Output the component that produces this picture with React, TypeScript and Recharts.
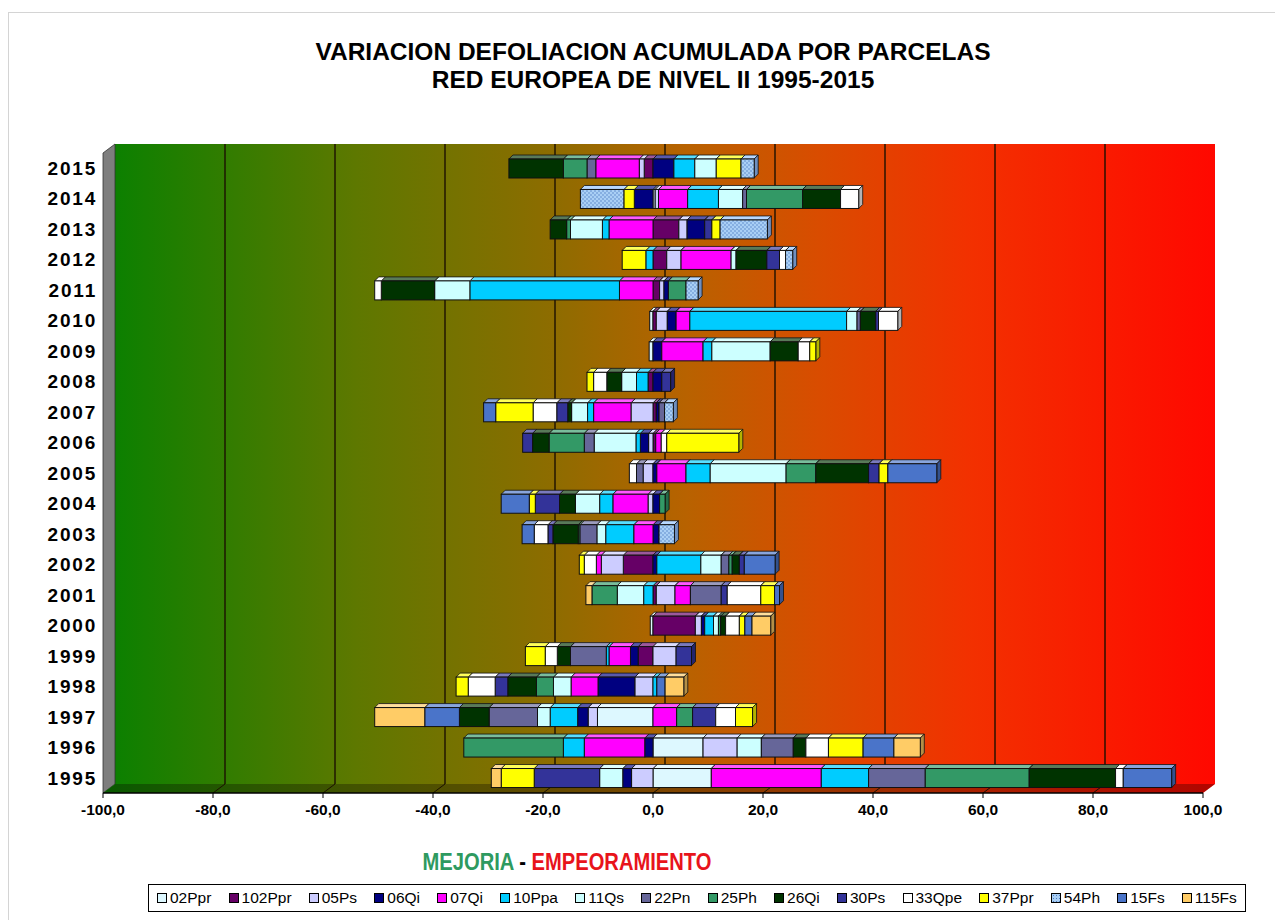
import { Bar, BarChart, ReferenceArea, XAxis, YAxis } from 'recharts'

const YEARS = ['1995', '1996', '1997', '1998', '1999', '2000', '2001', '2002', '2003', '2004', '2005', '2006', '2007', '2008', '2009', '2010', '2011', '2012', '2013', '2014', '2015']
const X_TICKS = [-100, -80, -60, -40, -20, 0, 20, 40, 60, 80, 100]

// one array per plot, 1995 -> 2015
const p02Ppr = [10.6, 9.1, -10.1, 0, 0, -0.5, 0, 0, 0, 0, 0, 0, 0, 0, -0.7, -0.6, 0, 0, 0, 0.4, 0]
const p102Ppr = [0, 0, 0, 0, -2.7, 7.7, 0.6, -5.4, 0, 0, 0, 0.5, 0.6, -0.9, 0, 0.6, 1.2, 2.5, 4.7, 0, -1.6]
const p05Ps = [-3.9, 6.2, -1.7, -3.3, 4.2, 1.1, 3.4, -4.0, 0, -0.9, -1.8, -0.8, -4.0, 0, 0, 2.0, 0.8, 2.6, 1.5, 0.6, -0.9]
const p06Qi = [-1.6, -1.5, -1.9, -6.7, -1.4, 0.6, 0, 0.7, 1.1, 1.2, 0.7, -1.5, 0.5, 1.6, 1.6, 1.6, 0.8, 0, 3.2, -3.4, 3.8]
const p07Qi = [20.0, -11.0, 4.3, -4.9, -3.9, 0, 2.8, -0.9, -3.5, -6.4, 5.3, 1.0, -6.8, 0, 7.5, 2.5, -6.1, 9.1, -8.0, 5.3, -7.9]
const p10Ppa = [8.6, -3.8, -5.0, 0.7, -0.5, 1.6, -1.7, 8.0, -5.1, -2.4, 4.4, -0.8, -1.1, -2.1, 1.6, 28.5, -27.2, -1.3, -1.2, 5.6, 3.8]
const p11Qs = [-4.2, 4.4, -2.3, -3.2, 0, 0.9, -4.8, 3.7, -1.6, -4.4, 13.8, -7.6, -2.9, -2.7, 10.6, 1.9, -6.4, 0.9, -5.8, 4.4, 3.9]
const p22Pn = [10.3, 5.8, -8.8, 0, -6.5, 0, 5.6, 1.4, -3.1, 0, -1.2, -1.8, 1.0, 0, 0, 0.6, 0, 0, 0, 0.7, -1.6]
const p25Ph = [18.9, -18.1, 2.9, -3.1, 0, 0.4, -4.6, 0.6, -0.3, 1.0, 5.4, -6.4, 0, 0, 0, 0, 3.2, 0, -0.7, 10.2, -4.3]
const p26Qi = [15.7, 2.3, -5.4, -5.2, -2.4, 0.9, 0, 1.3, -4.6, -2.9, 9.6, -3.0, -0.7, -2.7, 5.1, 2.8, -9.7, 5.6, -3.0, 6.9, -9.9]
const p30Ps = [-11.9, 0, 4.2, -2.3, 2.8, 0, 1.1, 0.9, -0.9, -4.4, 1.9, -1.8, -2.0, 1.6, 0, 0.5, 0, 2.3, 1.3, 0, 0]
const p33Qpe = [1.4, 4.1, 3.6, -4.9, -2.2, 2.5, 6.1, -2.2, -2.5, 0, -1.3, 1.0, -4.3, -2.4, 2.1, 3.5, -1.2, 1.1, 0, 3.3, 0]
const p37Ppr = [-6.0, 6.3, 3.1, -2.2, -3.6, 1.0, 2.5, -0.9, 0, -1.1, 1.6, 13.1, -6.8, -1.2, 1.1, 0, 0, -4.3, 1.5, -1.9, 4.5]
const p54Ph = [0, 0, 0, 0, 0, 0, 0, 0, 2.8, 0, 0, 0, 1.6, 0, 0, 0, 2.2, 1.3, 8.6, -7.9, 2.4]
const p15Fs = [8.8, 5.6, -6.3, 1.5, 0, 1.3, 0.9, 5.6, -2.2, -5.1, 8.9, 0, -2.2, 0, 0, 0, 0, 0, 0, 0, 0]
const p115Fs = [-1.8, 4.8, -9.1, 3.4, 0, 3.4, -1.1, 0, 0, 0, 0, 0, 0, 0, 0, 0, 0, 0, 0, 0, 0]

const SERIES = [
  { name: '02Ppr', color: '#DDF8FF', values: p02Ppr },
  { name: '102Ppr', color: '#660066', values: p102Ppr },
  { name: '05Ps', color: '#CCCCFF', values: p05Ps },
  { name: '06Qi', color: '#000080', values: p06Qi },
  { name: '07Qi', color: '#FF00FF', values: p07Qi },
  { name: '10Ppa', color: '#00CCFF', values: p10Ppa },
  { name: '11Qs', color: '#CCFFFF', values: p11Qs },
  { name: '22Pn', color: '#666699', values: p22Pn },
  { name: '25Ph', color: '#339966', values: p25Ph },
  { name: '26Qi', color: '#003300', values: p26Qi },
  { name: '30Ps', color: '#333399', values: p30Ps },
  { name: '33Qpe', color: '#FFFFFF', values: p33Qpe },
  { name: '37Ppr', color: '#FFFF00', values: p37Ppr },
  { name: '54Ph', color: 'url(#dots54)', values: p54Ph },
  { name: '15Fs', color: '#4A74C9', values: p15Fs },
  { name: '115Fs', color: '#FFCC66', values: p115Fs },
]

const data = YEARS.map((year, i) => {
  const row: Record<string, string | number> = { year }
  SERIES.forEach((s) => {
    row[s.name] = s.values[i]
  })
  return row
})

const DEPTH_X = 12
const DEPTH_Y = 9

function mix(hex: string, target: number, amount: number) {
  if (!hex.startsWith('#')) return hex
  const n = parseInt(hex.slice(1), 16)
  const ch = [(n >> 16) & 255, (n >> 8) & 255, n & 255].map((c) => Math.round(c + (target - c) * amount))
  return `rgb(${ch[0]},${ch[1]},${ch[2]})`
}

function Block(props: any) {
  const { x, y, width, height, color, positive } = props
  if (!width || Math.abs(width) < 0.3) return null
  const x0 = width < 0 ? x + width : x
  const w = Math.abs(width)
  const d = 4
  const top = `${x0},${y} ${x0 + d},${y - d} ${x0 + w + d},${y - d} ${x0 + w},${y}`
  const side = `${x0 + w},${y} ${x0 + w + d},${y - d} ${x0 + w + d},${y + height - d} ${x0 + w},${y + height}`
  const topFill = color.startsWith('#') ? mix(color, 255, 0.35) : '#b8d8ff'
  const sideFill = color.startsWith('#') ? mix(color, 0, 0.3) : '#6f8fbf'
  return (
    <g>
      <polygon points={top} fill={topFill} stroke="#111" strokeWidth={0.8} />
      {positive && <polygon points={side} fill={sideFill} stroke="#111" strokeWidth={0.8} />}
      <rect x={x0} y={y} width={w} height={height} fill={color} stroke="#111" strokeWidth={1} />
    </g>
  )
}

function Walls(props: any) {
  const { x, y, width, height } = props
  const bx = x + DEPTH_X
  const by = y - DEPTH_Y
  const bottom = y + height
  const floor = `${x},${bottom} ${bx},${by + height} ${bx + width},${by + height} ${x + width},${bottom}`
  return (
    <g>
      <defs>
        <linearGradient id="wallGrad" x1="0" y1="0" x2="1" y2="0">
          <stop offset="0%" stopColor="#0C8000" />
          <stop offset="22%" stopColor="#5E7800" />
          <stop offset="40%" stopColor="#8E6C00" />
          <stop offset="52%" stopColor="#B86200" />
          <stop offset="64%" stopColor="#D94C00" />
          <stop offset="78%" stopColor="#F33000" />
          <stop offset="100%" stopColor="#FF0800" />
        </linearGradient>
        <pattern id="dots54" width="4" height="4" patternUnits="userSpaceOnUse">
          <rect width="4" height="4" fill="#A9CFF5" />
          <circle cx="1" cy="1" r="0.8" fill="#5A86C8" />
          <circle cx="3" cy="3" r="0.8" fill="#5A86C8" />
        </pattern>
      </defs>
      <rect x={bx} y={by} width={width} height={height} fill="url(#wallGrad)" />
      <polygon
        points={`${x},${y} ${bx},${by} ${bx},${by + height} ${x},${bottom}`}
        fill="#7E7E7E"
        stroke="#333"
        strokeWidth={0.8}
      />
      <polygon points={floor} fill="url(#wallGrad)" />
      <polygon points={floor} fill="#000" fillOpacity={0.3} />
      {X_TICKS.slice(1, -1).map((t) => {
        const gx = bx + (width * (t + 100)) / 200
        return (
          <g key={t}>
            <line x1={gx} y1={by} x2={gx} y2={by + height} stroke="#1c1000" strokeWidth={1.4} />
            <line x1={gx} y1={by + height} x2={gx - DEPTH_X} y2={bottom} stroke="#1c1000" strokeWidth={1} />
          </g>
        )
      })}
    </g>
  )
}

function LegendSwatch({ color }: { color: string }) {
  const dotted = !color.startsWith('#')
  return (
    <span
      style={{
        display: 'inline-block',
        width: 8,
        height: 8,
        border: '1px solid #000',
        marginRight: 3,
        background: dotted ? '#A9CFF5' : color,
        backgroundImage: dotted ? 'radial-gradient(#4d7dc0 35%, transparent 40%)' : undefined,
        backgroundSize: dotted ? '3px 3px' : undefined,
      }}
    />
  )
}

export default function App() {
  return (
    <div
      style={{
        position: 'absolute',
        left: 0,
        top: 0,
        width: 1275,
        height: 920,
        background: '#fff',
        fontFamily: "'Liberation Sans', Arial, sans-serif",
        overflow: 'hidden',
      }}
    >
      <div style={{ position: 'absolute', left: 8, top: 12, width: 1267, height: 908, borderLeft: '1px solid #d4d4d4', borderTop: '1px solid #d4d4d4' }} />
      <div
        style={{
          position: 'absolute',
          left: 0,
          top: 38,
          width: 1306,
          textAlign: 'center',
          fontWeight: 'bold',
          fontSize: 24.5,
          lineHeight: '28px',
          color: '#000',
        }}
      >
        VARIACION DEFOLIACION ACUMULADA POR PARCELAS
        <br />
        RED EUROPEA DE NIVEL II 1995-2015
      </div>

      <div style={{ position: 'absolute', left: 0, top: 0 }}>
        <BarChart
          width={1275}
          height={920}
          data={data}
          layout="vertical"
          stackOffset="sign"
          barSize={19}
          margin={{ top: 153, right: 72, bottom: 97, left: 33 }}
        >
          <ReferenceArea x1={-100} x2={100} ifOverflow="visible" shape={(p: any) => <Walls {...p} />} />
          <XAxis
            type="number"
            domain={[-100, 100]}
            ticks={X_TICKS}
            allowDataOverflow
            height={30}
            tickFormatter={(v: number) => v.toFixed(1).replace('.', ',')}
            tick={{ fill: '#000', fontSize: 15.5, fontWeight: 'bold' }}
            axisLine={{ stroke: '#000', strokeWidth: 1.5 }}
            tickLine={{ stroke: '#000' }}
            tickSize={5}
            tickMargin={6}
          />
          <YAxis
            type="category"
            dataKey="year"
            reversed
            width={70}
            axisLine={false}
            tickLine={false}
            tickSize={0}
            tickMargin={6}
            tick={{ fill: '#000', fontSize: 19, fontWeight: 'bold', letterSpacing: 1.8 }}
          />
          {SERIES.map((s) => (
            <Bar
              key={s.name}
              dataKey={s.name}
              stackId="a"
              fill={s.color}
              isAnimationActive={false}
              shape={(p: any) => <Block {...p} color={s.color} positive={Number(p.payload[s.name]) > 0} />}
            />
          ))}
        </BarChart>
      </div>

      <div
        style={{
          position: 'absolute',
          left: 0,
          top: 848,
          width: 1134,
          textAlign: 'center',
          fontWeight: 'bold',
          fontSize: 24,
          transform: 'scaleX(0.84)',
          transformOrigin: '567px 0',
        }}
      >
        <span style={{ color: '#2E9A60' }}>MEJORIA</span>
        <span style={{ color: '#000' }}> - </span>
        <span style={{ color: '#E8141B' }}>EMPEORAMIENTO</span>
      </div>

      <div
        style={{
          position: 'absolute',
          left: 148,
          top: 884,
          width: 1098,
          height: 28,
          border: '1px solid #000',
          display: 'flex',
          alignItems: 'center',
          justifyContent: 'space-between',
          padding: '0 8px',
          boxSizing: 'border-box',
          fontSize: 15.5,
          color: '#000',
        }}
      >
        {SERIES.map((s) => (
          <span key={s.name} style={{ display: 'inline-flex', alignItems: 'center', whiteSpace: 'nowrap' }}>
            <LegendSwatch color={s.color} />
            {s.name}
          </span>
        ))}
      </div>
    </div>
  )
}
